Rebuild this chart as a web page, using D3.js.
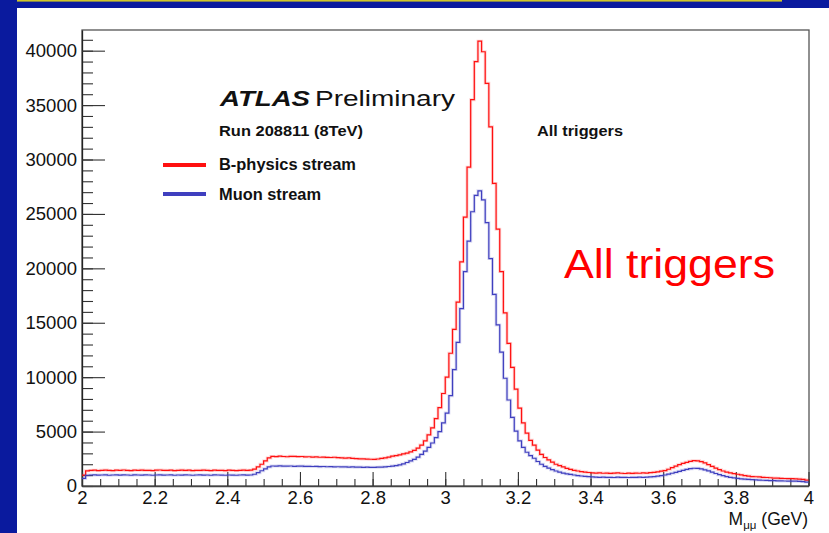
<!DOCTYPE html>
<html>
<head>
<meta charset="utf-8">
<script src="https://cdn.jsdelivr.net/npm/d3@7"></script>
<style>
  html, body { margin: 0; padding: 0; background: #fff; overflow: hidden; }
  text { font-family: "Liberation Sans", Arial, Helvetica, sans-serif; }
</style>
</head>
<body>
<svg id="chart" width="829" height="533"></svg>
<script>
// Dimuon invariant mass, 200 bins of 10 MeV from 2.0 to 4.0 GeV
const massLow = 2.0;
const binWidth = 0.01;

// Entries per bin, B-physics stream
const bphysics = [
  1000, 1390, 1430, 1450, 1420, 1440, 1460, 1430, 1410, 1450,
  1440, 1470, 1430, 1420, 1450, 1440, 1460, 1430, 1440, 1420,
  1450, 1470, 1440, 1430, 1450, 1420, 1440, 1460, 1430, 1450,
  1410, 1440, 1430, 1460, 1440, 1420, 1450, 1430, 1440, 1410,
  1450, 1430, 1420, 1440, 1460, 1430, 1450, 1550, 1750, 2000,
  2300, 2580, 2720, 2700, 2740, 2710, 2690, 2730, 2720, 2700,
  2710, 2680, 2690, 2660, 2670, 2640, 2650, 2630, 2620, 2640,
  2600, 2590, 2560, 2580, 2540, 2520, 2500, 2490, 2470, 2460,
  2450, 2480, 2530, 2580, 2650, 2740, 2800, 2860, 2950, 3020,
  3140, 3280, 3480, 3760, 4150, 4700, 5350, 6200, 7200, 8500,
  10000, 12200, 14400, 16900, 20600, 24700, 29300, 35500, 39000, 40870,
  39900, 37000, 33000, 27800, 23600, 19700, 15900, 13100, 10900, 8900,
  7150, 5800, 4850, 4200, 3750, 3300, 2900, 2620, 2400, 2200,
  2000, 1880, 1750, 1620, 1520, 1440, 1380, 1320, 1280, 1240,
  1200, 1180, 1210, 1170, 1190, 1160, 1180, 1200, 1170, 1150,
  1180, 1160, 1190, 1170, 1200, 1190, 1220, 1260, 1300, 1360,
  1420, 1540, 1680, 1820, 1960, 2080, 2180, 2270, 2330, 2310,
  2240, 2120, 1960, 1800, 1640, 1500, 1380, 1280, 1200, 1130,
  1080, 1020, 960, 910, 870, 850, 830, 800, 780, 760,
  730, 720, 700, 690, 680, 670, 660, 640, 600, 540
];

// Entries per bin, Muon stream
const muon = [
  700, 990, 1010, 1020, 1000, 1010, 1030, 990, 1010, 1020,
  1000, 1020, 1010, 990, 1030, 1010, 1000, 1020, 1010, 990,
  1010, 1030, 1000, 1010, 1020, 990, 1010, 1000, 1020, 1010,
  990, 1010, 1020, 1000, 1010, 990, 1020, 1010, 1000, 990,
  1010, 1000, 990, 1010, 1020, 1000, 1010, 1080, 1220, 1400,
  1580, 1750, 1840, 1830, 1850, 1820, 1830, 1840, 1810, 1820,
  1830, 1800, 1810, 1790, 1800, 1780, 1790, 1770, 1780, 1760,
  1770, 1750, 1760, 1740, 1750, 1730, 1740, 1720, 1730, 1720,
  1720, 1730, 1740, 1760, 1790, 1830, 1880, 1940, 2030, 2160,
  2300, 2450, 2650, 2900, 3200, 3550, 3950, 4450, 5000, 5800,
  6700, 8300, 10700, 13200, 16300, 19700, 22500, 25200, 26700, 27120,
  26300, 24200, 20900, 17600, 14800, 12300, 9900, 7900, 6300, 5050,
  4150, 3550, 3100, 2800, 2550, 2250, 2000, 1800, 1650, 1500,
  1380, 1280, 1190, 1120, 1060, 1010, 960, 920, 890, 860,
  830, 810, 800, 820, 790, 800, 780, 810, 790, 800,
  780, 800, 790, 810, 800, 810, 830, 860, 900, 950,
  1010, 1090, 1170, 1260, 1350, 1440, 1520, 1590, 1630, 1620,
  1570, 1490, 1390, 1270, 1150, 1040, 950, 870, 800, 750,
  700, 660, 630, 600, 580, 560, 545, 530, 515, 500,
  490, 480, 470, 460, 455, 445, 440, 430, 410, 360
];

const xTicks = [2, 2.2, 2.4, 2.6, 2.8, 3, 3.2, 3.4, 3.6, 3.8, 4];
const xMinorTicks = d3.range(0, 41).map(i => 2 + i * 0.05);
const yTicks = [0, 5000, 10000, 15000, 20000, 25000, 30000, 35000, 40000];
const yMinorTicks = d3.range(0, 42).map(i => i * 1000);

const seriesNames = ["B-physics stream", "Muon stream"];
const seriesColors = ["#ff1010", "#3f3fbf"];

const svg = d3.select("#chart");

// Slide background: blue banners with a thin yellow rule
svg.append("rect").attr("x", 0).attr("y", 0).attr("width", 829).attr("height", 533).attr("fill", "#fff");
svg.append("rect").attr("x", 0).attr("y", 0).attr("width", 829).attr("height", 8).attr("fill", "#0a1a9e");
svg.append("rect").attr("x", 0).attr("y", 0).attr("width", 782).attr("height", 1.6).attr("fill", "#cfc629");
svg.append("rect").attr("x", 0).attr("y", 0).attr("width", 17).attr("height", 533).attr("fill", "#0a1a9e");

const frame = { left: 82, right: 809, top: 30, bottom: 486 };

const x = d3.scaleLinear().domain([2, 4]).range([frame.left, frame.right - 0.5]);
const y = d3.scaleLinear().domain([0, 41900]).range([frame.bottom, frame.top]);

// Frame box
svg.append("rect")
  .attr("x", frame.left).attr("y", frame.top)
  .attr("width", frame.right - frame.left).attr("height", frame.bottom - frame.top)
  .attr("fill", "none").attr("stroke", "#555").attr("stroke-width", 1.3);

const tickFont = 18.5;

// Y axis: minor and major ticks drawn inside the frame
const yMinor = svg.append("g").attr("transform", `translate(${frame.left},0)`)
  .call(d3.axisLeft(y).tickValues(yMinorTicks).tickSizeInner(-11).tickSizeOuter(0).tickFormat(""));
yMinor.select(".domain").remove();
const yMajor = svg.append("g").attr("transform", `translate(${frame.left},0)`)
  .call(d3.axisLeft(y).tickValues(yTicks).tickSizeInner(-23).tickSizeOuter(0).tickPadding(5).tickFormat(d3.format("d")));
yMajor.select(".domain").attr("stroke", "#222").attr("stroke-width", 1.3);

// X axis
const xMinor = svg.append("g").attr("transform", `translate(0,${frame.bottom})`)
  .call(d3.axisBottom(x).tickValues(xMinorTicks).tickSizeInner(-7).tickSizeOuter(0).tickFormat(""));
xMinor.select(".domain").remove();
const xMajor = svg.append("g").attr("transform", `translate(0,${frame.bottom})`)
  .call(d3.axisBottom(x).tickValues(xTicks).tickSizeInner(-14).tickSizeOuter(0).tickPadding(5).tickFormat(d3.format("~g")));
xMajor.select(".domain").attr("stroke", "#444").attr("stroke-width", 1.3);

svg.selectAll(".tick line").attr("stroke", "#333").attr("stroke-width", 1.1);
svg.selectAll(".tick text")
  .attr("font-family", '"Liberation Sans", Arial, sans-serif')
  .attr("font-size", tickFont).attr("fill", "#111");

// Axis title with subscript
const xTitle = svg.append("text")
  .attr("x", 808).attr("y", 524.5)
  .attr("text-anchor", "end")
  .attr("font-size", 17.5).attr("fill", "#111");
xTitle.append("tspan").text("M");
xTitle.append("tspan").attr("font-size", 11.5).attr("dy", 4).text("μμ");
xTitle.append("tspan").attr("dy", -4).text(" (GeV)");

// Histograms as step lines along bin edges
function stepPoints(values) {
  const pts = values.map((v, i) => [massLow + i * binWidth, v]);
  pts.push([massLow + values.length * binWidth, values[values.length - 1]]);
  return pts;
}
const step = d3.line()
  .x(d => x(d[0]))
  .y(d => y(d[1]))
  .curve(d3.curveStepAfter);

[bphysics, muon].forEach((vals, k) => {
  const pts = stepPoints(vals);
  svg.append("path").attr("d", step(pts))
    .attr("fill", "none").attr("stroke", seriesColors[k])
    .attr("stroke-width", 3).attr("stroke-opacity", 0.18);
  svg.append("path").attr("d", step(pts))
    .attr("fill", "none").attr("stroke", seriesColors[k])
    .attr("stroke-width", 1.2);
});

// Labels
svg.append("text").attr("x", 220).attr("y", 106)
  .attr("font-size", 22).attr("font-weight", "bold").attr("font-style", "italic")
  .attr("textLength", 90).attr("lengthAdjust", "spacingAndGlyphs")
  .attr("fill", "#111").text("ATLAS");
svg.append("text").attr("x", 315).attr("y", 106)
  .attr("font-size", 22)
  .attr("textLength", 140).attr("lengthAdjust", "spacingAndGlyphs")
  .attr("fill", "#111").text("Preliminary");
svg.append("text").attr("x", 219).attr("y", 136)
  .attr("font-size", 15.5).attr("font-weight", "bold")
  .attr("textLength", 144).attr("lengthAdjust", "spacingAndGlyphs")
  .attr("fill", "#111").text("Run 208811 (8TeV)");
svg.append("text").attr("x", 537).attr("y", 136)
  .attr("font-size", 15.5).attr("font-weight", "bold")
  .attr("textLength", 86).attr("lengthAdjust", "spacingAndGlyphs")
  .attr("fill", "#111").text("All triggers");

// Legend
const legendRows = [
  { y: 165, textY: 170, width: 137 },
  { y: 194, textY: 200, width: 102 }
];
legendRows.forEach((row, k) => {
  svg.append("line")
    .attr("x1", 163).attr("x2", 206).attr("y1", row.y).attr("y2", row.y)
    .attr("stroke", seriesColors[k]).attr("stroke-width", 4);
  svg.append("text").attr("x", 219).attr("y", row.textY)
    .attr("font-size", 16.2).attr("font-weight", "bold")
    .attr("textLength", row.width).attr("lengthAdjust", "spacingAndGlyphs")
    .attr("fill", "#111").text(seriesNames[k]);
});

// Slide annotation
svg.append("text").attr("x", 564).attr("y", 278)
  .attr("font-family", '"Open Sans", "Noto Sans", sans-serif')
  .attr("font-size", 40)
  .attr("textLength", 211).attr("lengthAdjust", "spacingAndGlyphs")
  .attr("fill", "#ff0000").text("All triggers");
</script>
</body>
</html>
